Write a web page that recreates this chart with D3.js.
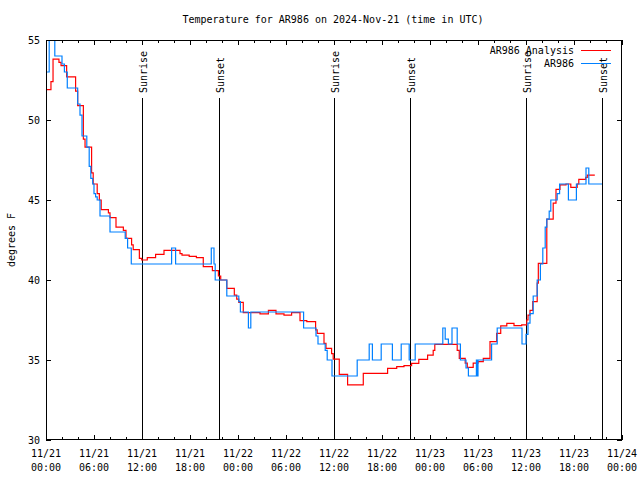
<!DOCTYPE html>
<html><head><meta charset="utf-8">
<script src="https://cdn.jsdelivr.net/npm/d3@7"></script>
<style>
body{margin:0;background:#fff}
text{font-family:"DejaVu Sans Mono",monospace;font-size:10px;fill:#000}
</style>
</head><body>
<svg id="c" width="640" height="480"></svg>
<script>
const title = "Temperature for AR986 on 2024-Nov-21 (time in UTC)";
const yLabel = "degrees F";
const seriesNames = ["AR986 Analysis", "AR986"];
const seriesColors = ["#ff0000", "#0080ff"];
const startUTC = Date.UTC(2024, 10, 21, 0, 0);

// hours since 11/21 00:00 UTC
const analysisHours = [0,0.62,0.88,1.62,1.88,2.58,3.7,3.96,4.67,4.88,5.7,5.9,6.4,6.67,6.9,7.8,8.0,8.75,9.67,10.0,10.7,10.9,11.67,11.96,12.66,13.7,14.75,16.75,17.0,17.9,18.8,19.66,20.8,21.55,21.84,22.6,23.54,23.84,24.1,24.66,26.75,27.8,28.75,29.75,30.7,31.75,32.6,33.7,33.9,34.75,35.0,35.7,35.9,36.66,37.7,39.66,42.7,43.84,44.75,45.7,46.6,47.7,48.4,48.6,51.4,51.66,52.4,52.66,53.4,54.0,54.66,55.5,56.33,56.84,57.6,58.5,59.46,60.1,60.25,60.5,60.84,61.4,61.54,62.6,63.4,63.75,64.25,65.0,65.6,66.4,66.6,67.46,67.66,68.6];
const analysisTemps = [51.9,52.4,53.8,53.6,53.4,52.7,51.8,50.9,48.8,48.3,46.7,46.0,45.4,45.0,44.4,44.2,43.9,43.3,43.1,42.6,42.2,41.9,41.35,41.25,41.4,41.6,41.85,41.65,41.55,41.48,41.4,40.83,40.58,40.25,40.0,39.48,39.06,38.8,38.6,37.96,37.88,38.1,37.88,37.8,37.96,37.46,37.4,36.88,36.67,36.04,35.73,35.4,35.06,34.1,33.44,34.17,34.48,34.58,34.65,34.79,35.04,35.3,35.6,35.98,35.6,35.1,34.8,34.54,34.8,34.9,35.1,36.15,36.67,37.13,37.29,37.15,37.2,37.5,37.8,38.1,38.65,39.8,41.04,43.8,44.8,45.67,45.94,46.0,45.79,46.0,46.29,46.42,46.56,46.56];

const obsHours = [0,0.4,1.1,2.0,2.3,2.66,3.96,4.25,4.5,5.1,5.4,5.6,5.84,6.0,6.2,6.4,6.75,8.0,9.9,10.2,10.66,15.7,16.2,20.66,21.0,21.15,22.6,24.1,24.3,25.3,25.6,32.2,33.75,34.0,34.9,35.15,35.75,38.9,40.4,40.8,41.9,43.3,44.4,45.4,46.15,49.6,49.9,50.3,50.75,51.4,51.8,52.5,52.8,53.8,53.9,54.0,55.7,56.4,59.5,60.0,60.25,60.5,60.9,61.4,61.8,62.1,62.4,62.6,62.9,63.1,63.9,64.2,65.3,66.3,67.5,67.85,69.5];
const obsTemps = [53.0,56.0,54.0,53.5,53.0,52.0,51.0,50.3,49.0,48.3,47.1,46.35,46.0,45.4,45.2,45.0,44.0,43.0,42.6,42.0,41.0,42.0,41.0,42.0,41.0,40.0,39.0,38.65,38.0,37.0,38.0,37.0,36.5,36.0,35.6,35.0,34.0,35.0,36.0,35.0,36.0,35.0,36.0,35.0,36.0,37.0,36.3,36.0,37.0,36.0,35.0,34.5,34.0,35.0,34.0,35.0,36.0,37.0,36.0,36.6,37.3,37.9,39.0,40.0,41.0,42.0,43.3,43.8,44.3,45.0,45.4,46.0,45.0,46.0,47.0,46.0,46.0];

const sunEventHours = [12.04, 21.58, 36.04, 45.54, 60.04, 69.54];
const sunEventLabels = ["Sunrise", "Sunset", "Sunrise", "Sunset", "Sunrise", "Sunset"];
const yTicks = [30, 35, 40, 45, 50, 55];
const xMajorHours = [0,6,12,18,24,30,36,42,48,54,60,66,72];
const xMinorHours = d3.range(0, 73, 2);

const W = 640, H = 480;
const m = {l: 46, r: 18, t: 40, b: 40};
const svg = d3.select("#c");
const toDate = h => new Date(startUTC + h * 3600000);

const x = d3.scaleUtc().domain([toDate(0), toDate(72)]).range([m.l, W - m.r]);
const y = d3.scaleLinear().domain([30, 55]).range([H - m.b, m.t]);

svg.append("defs").append("clipPath").attr("id", "clip")
  .append("rect").attr("x", m.l).attr("y", m.t).attr("width", W - m.l - m.r).attr("height", H - m.t - m.b);

// title
svg.append("text").attr("x", 333).attr("y", 23).attr("text-anchor", "middle").text(title);
// y label
svg.append("text").attr("transform", "translate(15,240) rotate(-90)").attr("text-anchor", "middle").text(yLabel);

const g = svg.append("g").attr("shape-rendering", "crispEdges");

// x ticks (bottom and mirrored top)
const fmtD = d3.utcFormat("%m/%d"), fmtT = d3.utcFormat("%H:%M");
xMinorHours.forEach(h => {
  const major = h % 6 === 0;
  const len = major ? 5 : 3;
  const px = Math.round(x(toDate(h))) + 0.5;
  g.append("line").attr("x1", px).attr("x2", px).attr("y1", H - m.b).attr("y2", H - m.b - len).attr("stroke", "#000");
  g.append("line").attr("x1", px).attr("x2", px).attr("y1", m.t).attr("y2", m.t + len).attr("stroke", "#000");
});
xMajorHours.forEach(h => {
  const d = toDate(h);
  const t = svg.append("text").attr("text-anchor", "middle").attr("x", x(d));
  t.append("tspan").attr("x", x(d)).attr("y", 457).text(fmtD(d));
  t.append("tspan").attr("x", x(d)).attr("y", 471).text(fmtT(d));
});

// y ticks
yTicks.forEach(v => {
  const py = Math.round(y(v)) + 0.5;
  g.append("line").attr("x1", m.l).attr("x2", m.l + 5).attr("y1", py).attr("y2", py).attr("stroke", "#000");
  g.append("line").attr("x1", W - m.r).attr("x2", W - m.r - 5).attr("y1", py).attr("y2", py).attr("stroke", "#000");
  svg.append("text").attr("x", 40).attr("y", y(v) + 3.5).attr("text-anchor", "end").text(v);
});

// sunrise / sunset
sunEventHours.forEach((h, i) => {
  const px = Math.round(x(toDate(h))) + 0.5;
  g.append("line").attr("x1", px).attr("x2", px).attr("y1", 98).attr("y2", H - m.b).attr("stroke", "#000");
  svg.append("text").attr("transform", `translate(${px + 4},93) rotate(-90)`).attr("text-anchor", "start").text(sunEventLabels[i]);
});

// series
const line = d3.line().x(d => x(toDate(d[0]))).y(d => y(d[1])).curve(d3.curveStepAfter);
const aData = analysisHours.map((h, i) => [h, analysisTemps[i]]);
const oData = obsHours.map((h, i) => [h, obsTemps[i]]);
const sg = svg.append("g").attr("clip-path", "url(#clip)");
sg.append("path").datum(aData).attr("d", line).attr("fill", "none").attr("stroke", seriesColors[0]).attr("stroke-width", 1.2);
sg.append("path").datum(oData).attr("d", line).attr("fill", "none").attr("stroke", seriesColors[1]).attr("stroke-width", 1.2);

// border
svg.append("rect").attr("shape-rendering", "crispEdges").attr("x", m.l + 0.5).attr("y", m.t + 0.5).attr("width", W - m.l - m.r - 1).attr("height", H - m.t - m.b - 1)
  .attr("fill", "none").attr("stroke", "#000");

// legend (drawn last, over the labels)
const lg = svg.append("g");
seriesNames.forEach((n, i) => {
  const ly = 50 + i * 13;
  lg.append("text").attr("x", 574).attr("y", ly + 3.5).attr("text-anchor", "end").text(n);
  lg.append("line").attr("shape-rendering", "crispEdges").attr("x1", 581).attr("x2", 611).attr("y1", ly + 0.5).attr("y2", ly + 0.5)
    .attr("stroke", seriesColors[i]).attr("stroke-width", 1);
});
</script>
</body></html>
